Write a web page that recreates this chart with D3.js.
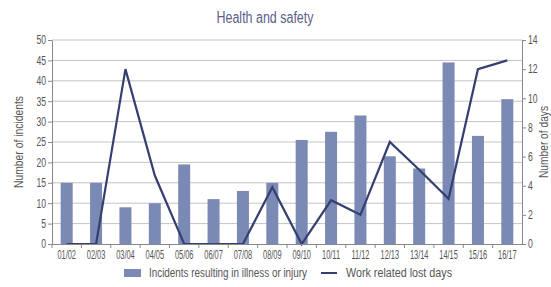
<!DOCTYPE html>
<html>
<head>
<meta charset="utf-8">
<script src="https://cdn.jsdelivr.net/npm/d3@7"></script>
<style>
  body { margin: 0; background: #fff; }
  svg text { font-family: "Liberation Sans", Arial, sans-serif; }
</style>
</head>
<body>
<div id="chart"></div>
<script>
const years = ['01/02','02/03','03/04','04/05','05/06','06/07','07/08','08/09',
  '09/10','10/11','11/12','12/13','13/14','14/15','15/16','16/17'];
const incidents = [15, 15, 9, 10, 19.5, 11, 13, 15, 25.5, 27.5, 31.5, 21.5, 18.5, 44.5, 26.5, 35.5];
const lostDays = [0, 0, 12, 4.7, 0, 0, 0, 3.9, 0, 3, 2, 7, 5.1, 3.1, 12, 12.6];
const leftTicks = [0, 5, 10, 15, 20, 25, 30, 35, 40, 45, 50];
const rightTicks = [0, 2, 4, 6, 8, 10, 12, 14];

const width = 551, height = 287;
const margin = { top: 40, right: 29, bottom: 43, left: 52 };
const iw = width - margin.left - margin.right;
const ih = height - margin.top - margin.bottom;

const barColor = '#7b8ab4';
const lineColor = '#343f72';
const textColor = '#555';

// squeeze text horizontally to mimic the condensed face of the original
function squeeze(sel, f) {
  sel.each(function () {
    const len = this.getComputedTextLength();
    d3.select(this).attr('textLength', len * f).attr('lengthAdjust', 'spacingAndGlyphs');
  });
}

const svg = d3.select('#chart').append('svg')
  .attr('width', width)
  .attr('height', height);

// title
svg.append('text')
  .attr('x', 265).attr('y', 23)
  .attr('text-anchor', 'middle')
  .attr('font-size', 16)
  .attr('fill', '#5a6088')
  .attr('textLength', 97).attr('lengthAdjust', 'spacingAndGlyphs')
  .text('Health and safety');

const g = svg.append('g').attr('transform', `translate(${margin.left},${margin.top})`);

const xb = d3.scaleBand().domain(years).range([0, iw]);
const yL = d3.scaleLinear().domain([0, 50]).range([ih, 0]);
const yR = d3.scaleLinear().domain([0, 14]).range([ih, 0]);
const barW = 12;

// gridlines
g.append('g')
  .selectAll('line')
  .data(leftTicks.slice(1))
  .join('line')
  .attr('x1', 0).attr('x2', iw)
  .attr('y1', d => yL(d)).attr('y2', d => yL(d))
  .attr('stroke', '#c4c4c4')
  .attr('stroke-width', 1);

// bars
g.append('g')
  .selectAll('rect')
  .data(incidents)
  .join('rect')
  .attr('x', (d, i) => xb(years[i]) + (xb.bandwidth() - barW) / 2)
  .attr('width', barW)
  .attr('y', d => yL(d))
  .attr('height', d => ih - yL(d))
  .attr('fill', barColor);

// line
const line = d3.line()
  .x((d, i) => xb(years[i]) + xb.bandwidth() / 2)
  .y(d => yR(d));

g.append('path')
  .datum(lostDays)
  .attr('fill', 'none')
  .attr('stroke', lineColor)
  .attr('stroke-width', 2.2)
  .attr('d', line);

// axes
const axL = g.append('g')
  .call(d3.axisLeft(yL).tickValues(leftTicks).tickSize(4).tickSizeOuter(0));
const axR = g.append('g')
  .attr('transform', `translate(${iw},0)`)
  .call(d3.axisRight(yR).tickValues(rightTicks).tickSize(4).tickSizeOuter(0));
const axB = g.append('g')
  .attr('transform', `translate(0,${ih})`)
  .call(d3.axisBottom(xb).tickSize(0).tickSizeOuter(0));

axB.selectAll('.tick').append('line')
  .attr('x1', -xb.bandwidth() / 2).attr('x2', -xb.bandwidth() / 2)
  .attr('y1', 0).attr('y2', 4)
  .attr('stroke', '#888');

[axL, axR, axB].forEach(a => {
  a.select('.domain').attr('stroke', '#888');
  a.selectAll('.tick line').attr('stroke', '#888');
  a.selectAll('.tick text').attr('fill', textColor).attr('font-size', 12)
    .style('font-family', '"Liberation Sans", Arial, sans-serif');
});
axB.selectAll('.tick text').attr('dy', '1.0em');
axL.selectAll('.tick text').attr('x', -6);
axR.selectAll('.tick text').attr('x', 6);
squeeze(axB.selectAll('.tick text'), 0.62);
squeeze(axL.selectAll('.tick text'), 0.72);
squeeze(axR.selectAll('.tick text'), 0.72);

// axis titles
svg.append('text')
  .attr('transform', `translate(23,${margin.top + ih / 2}) rotate(-90)`)
  .attr('text-anchor', 'middle')
  .attr('font-size', 12)
  .attr('fill', textColor)
  .attr('textLength', 92).attr('lengthAdjust', 'spacingAndGlyphs')
  .text('Number of incidents');

svg.append('text')
  .attr('transform', `translate(548,${margin.top + ih / 2}) rotate(-90)`)
  .attr('text-anchor', 'middle')
  .attr('font-size', 12)
  .attr('fill', textColor)
  .attr('textLength', 72).attr('lengthAdjust', 'spacingAndGlyphs')
  .text('Number of days');

// legend
const lg = svg.append('g').attr('transform', 'translate(124,273)');
lg.append('rect').attr('x', 0).attr('y', -4).attr('width', 17).attr('height', 8).attr('fill', barColor);
lg.append('text').attr('x', 25).attr('y', 4).attr('font-size', 12).attr('fill', textColor)
  .attr('textLength', 158).attr('lengthAdjust', 'spacingAndGlyphs')
  .text('Incidents resulting in illness or injury');
lg.append('line').attr('x1', 197).attr('x2', 213).attr('y1', 0).attr('y2', 0)
  .attr('stroke', lineColor).attr('stroke-width', 2);
lg.append('text').attr('x', 222).attr('y', 4).attr('font-size', 12).attr('fill', textColor)
  .attr('textLength', 106).attr('lengthAdjust', 'spacingAndGlyphs')
  .text('Work related lost days');
</script>
</body>
</html>
